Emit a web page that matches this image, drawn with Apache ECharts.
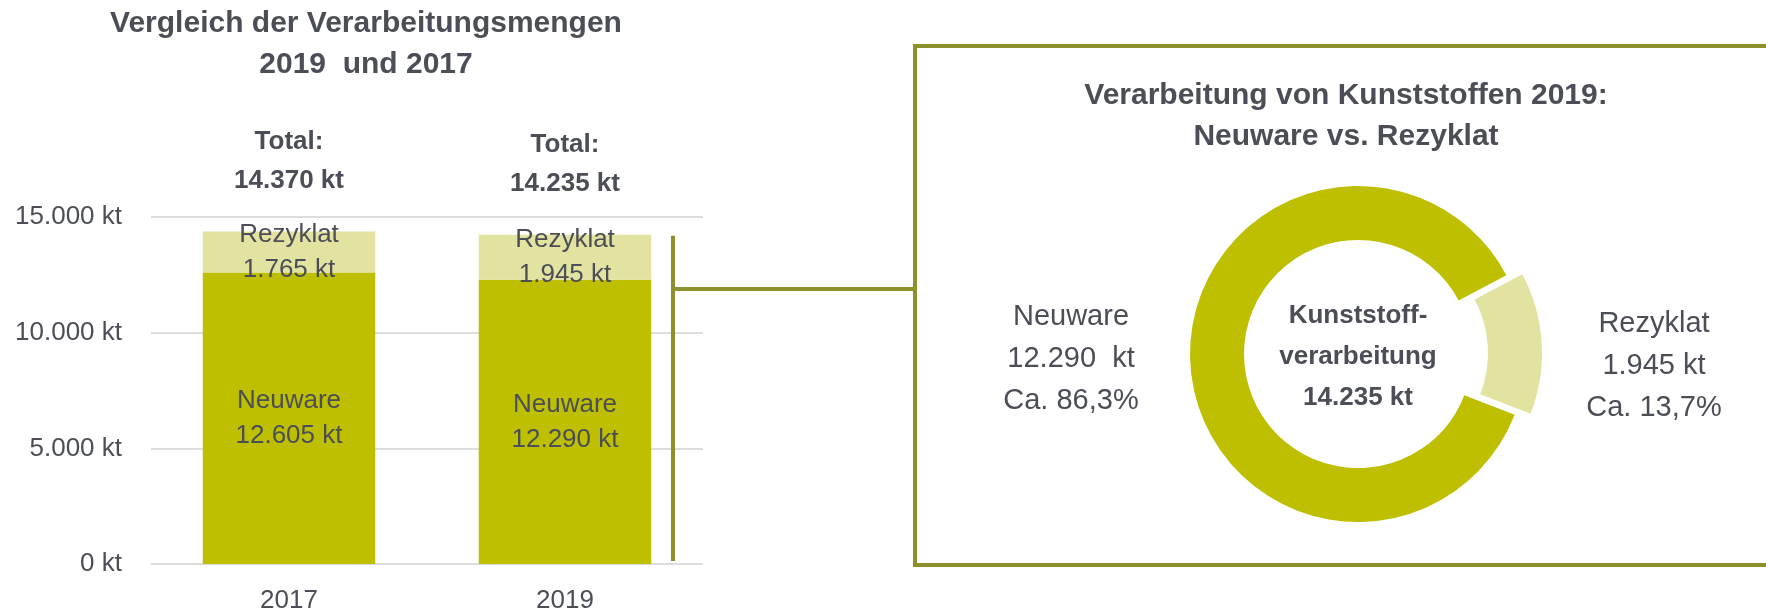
<!DOCTYPE html>
<html>
<head>
<meta charset="utf-8">
<title>Verarbeitung von Kunststoffen</title>
<script src="https://cdn.jsdelivr.net/npm/echarts@6/dist/echarts.min.js"></script>
<style>
  html, body { margin: 0; padding: 0; background: #fff; }
  #chart { width: 1766px; height: 616px; }
</style>
</head>
<body>
<div id="chart"></div>
<script>
// data
var categories = ['2017', '2019'];
var neuware = [12605, 12290];
var rezyklat = [1765, 1945];
var yMax = 15000;
var yStep = 5000;

var donutNames = ['Rezyklat', 'Neuware'];
var donutValues = [1945, 12290];

var textColor = '#4b4e56';
var green = '#bdbf00';
var lightGreen = '#e2e3a1';
var olive = '#8e912b';
var font = '"Liberation Sans", Arial, sans-serif';

// 12605 -> "12.605"
function fmt(n) {
    return String(n).replace(/\B(?=(\d{3})+(?!\d))/g, '.');
}

var totals = categories.map(function (c, i) {
    return neuware[i] + rezyklat[i];
});
var donutTotal = donutValues[0] + donutValues[1];

var chart = echarts.init(document.getElementById('chart'));

// donut geometry, Rezyklat slice pulled out along its bisector
var pieCenter = [1358, 354];
var pieRadius = [114, 168];
var startAngle = 28;
var pullOut = 16;
var midAngle = (startAngle - 360 * donutValues[0] / donutTotal / 2) * Math.PI / 180;
var pulledCenter = [pieCenter[0] + pullOut * Math.cos(midAngle), pieCenter[1] - pullOut * Math.sin(midAngle)];

function donutLabel(p) {
    var pct = (p.value / donutTotal * 100).toFixed(1).replace('.', ',');
    return p.name + '\n' + fmt(p.value) + (p.name === 'Neuware' ? '  kt' : ' kt') + '\nCa. ' + pct + '%';
}

// one ring per slice, the other slice left transparent
function donutData(visibleIndex) {
    return donutNames.map(function (n, i) {
        var shown = i === visibleIndex;
        return {
            name: n,
            value: donutValues[i],
            itemStyle: { color: shown ? (i === 0 ? lightGreen : green) : 'rgba(0,0,0,0)' },
            label: { show: shown }
        };
    });
}

var donutLabelStyle = {
    show: true, position: 'outside', color: textColor,
    fontSize: 29, lineHeight: 42, fontFamily: font,
    formatter: donutLabel
};

var option = {
    animation: false,
    textStyle: { fontFamily: font, color: textColor },
    grid: { left: 151, right: 1063, top: 217, bottom: 52 },
    xAxis: {
        type: 'category',
        data: categories,
        axisLine: { show: false },
        axisTick: { show: false },
        axisLabel: { color: textColor, fontSize: 26, margin: 24, fontFamily: font }
    },
    yAxis: {
        type: 'value',
        min: 0,
        max: yMax,
        interval: yStep,
        axisLabel: {
            color: textColor, fontSize: 26, margin: 29, fontFamily: font,
            formatter: function (v) { return fmt(v) + ' kt'; }
        },
        splitLine: { lineStyle: { color: '#dcdcdc', width: 2 } }
    },
    series: [
        {
            name: 'Neuware',
            type: 'bar',
            stack: 'menge',
            barWidth: '62.5%',
            itemStyle: { color: green },
            label: {
                show: true, position: 'inside', color: textColor,
                fontSize: 26, lineHeight: 35, fontFamily: font,
                formatter: function (p) { return p.seriesName + '\n' + fmt(p.value) + ' kt'; }
            },
            data: neuware
        },
        {
            name: 'Rezyklat',
            type: 'bar',
            stack: 'menge',
            itemStyle: { color: lightGreen },
            label: {
                show: true, position: 'inside', color: textColor,
                fontSize: 26, lineHeight: 35, fontFamily: font,
                formatter: function (p) { return p.seriesName + '\n' + fmt(p.value) + ' kt'; }
            },
            data: rezyklat
        },
        {
            name: 'Total',
            type: 'scatter',
            symbolSize: 0,
            itemStyle: { color: textColor, opacity: 1 },
            label: {
                show: true, position: 'top', distance: 31, color: textColor,
                fontSize: 26, fontWeight: 'bold', lineHeight: 39, fontFamily: font,
                formatter: function (p) { return 'Total:\n' + fmt(p.value) + ' kt'; }
            },
            data: totals
        },
        {
            name: 'Neuware 2019',
            type: 'pie',
            center: pieCenter,
            radius: pieRadius,
            startAngle: startAngle,
            silent: true,
            label: donutLabelStyle,
            labelLine: { show: false },
            labelLayout: function () {
                return { x: pieCenter[0] - 287, y: pieCenter[1] + 5, align: 'center', verticalAlign: 'middle' };
            },
            data: donutData(1)
        },
        {
            name: 'Rezyklat 2019',
            type: 'pie',
            center: pulledCenter,
            radius: pieRadius,
            startAngle: startAngle,
            silent: true,
            label: donutLabelStyle,
            labelLine: { show: false },
            labelLayout: function () {
                return { x: pieCenter[0] + 296, y: pieCenter[1] + 12, align: 'center', verticalAlign: 'middle' };
            },
            data: donutData(0)
        }
    ]
};

chart.setOption(option);

// frame, bracket and titles
var yTop = chart.convertToPixel({ yAxisIndex: 0 }, totals[1]);
var yZero = chart.convertToPixel({ yAxisIndex: 0 }, 0);

chart.setOption({
    graphic: [
        {
            type: 'rect',
            shape: { x: 915, y: 46, width: 1000, height: 519 },
            style: { fill: 'none', stroke: olive, lineWidth: 4 }
        },
        {
            type: 'line',
            shape: { x1: 673, y1: yTop + 1, x2: 673, y2: yZero - 3 },
            style: { stroke: olive, lineWidth: 4 }
        },
        {
            type: 'line',
            shape: { x1: 673, y1: 289, x2: 915, y2: 289 },
            style: { stroke: olive, lineWidth: 4 }
        },
        {
            type: 'text',
            x: 366, y: 3,
            style: {
                text: 'Vergleich der Verarbeitungsmengen\n2019  und 2017',
                align: 'center', verticalAlign: 'top',
                fontSize: 30, fontWeight: 'bold', lineHeight: 41,
                fontFamily: font, fill: textColor
            }
        },
        {
            type: 'text',
            x: 1346, y: 75,
            style: {
                text: 'Verarbeitung von Kunststoffen 2019:\nNeuware vs. Rezyklat',
                align: 'center', verticalAlign: 'top',
                fontSize: 30, fontWeight: 'bold', lineHeight: 41,
                fontFamily: font, fill: textColor
            }
        },
        {
            type: 'text',
            x: pieCenter[0], y: 357,
            style: {
                text: 'Kunststoff-\nverarbeitung\n' + fmt(donutTotal) + ' kt',
                align: 'center', verticalAlign: 'middle',
                fontSize: 26, fontWeight: 'bold', lineHeight: 41,
                fontFamily: font, fill: textColor
            }
        }
    ]
});
</script>
</body>
</html>
